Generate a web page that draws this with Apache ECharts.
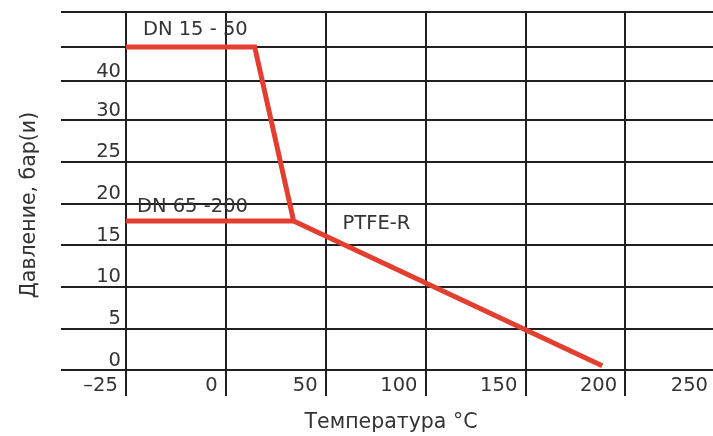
<!DOCTYPE html>
<html>
<head>
<meta charset="utf-8">
<script src="https://cdn.jsdelivr.net/npm/echarts@6/dist/echarts.min.js"></script>
<style>html,body{margin:0;padding:0;background:#fff}#c{width:713px;height:436px}</style>
</head>
<body>
<div id="c"></div>
<script>
// Temperature (°C) and pressure (bar): DN 15 - 50 curve
const tempsSmall = [-50, 14.5, 34, 188.5];
const pressSmall = [38.8, 38.8, 17.9, 0.5];
// DN 65 - 200 curve (joins the common PTFE-R slope at the knee)
const tempsLarge = [-50, 34];
const pressLarge = [17.9, 17.9];

// X axis grid lines and their labels
const xTickValues = [-50, 0, 50, 100, 150, 200, 250];
const xTickLabels = ['–25', '0', '50', '100', '150', '200', '250'];

// Y axis grid lines and their labels
const yLineValues = [0, 5, 10, 15, 20, 25, 30, 34.7, 38.8, 43];
const yLabelValues = [0, 5, 10, 15, 20, 25, 30, 34.7];
const yLabelTexts = ['0', '5', '10', '15', '20', '25', '30', '40'];

// Annotations
const annotTexts = ['DN 15 - 50', 'DN 65 -200', 'PTFE-R'];
const annotX = [-41.5, -44.5, 58.5];
const annotY = [40.8, 19.6, 17.6];

const FONT = 'DejaVu Sans';
const TXT = '#333333';
const LINE = '#231f20';
const RED = '#e23f31';

const chart = echarts.init(document.getElementById('c'), null, {renderer: 'canvas'});
chart.setOption({
  animation: false,
  backgroundColor: '#ffffff',
  grid: {left: 61, width: 664, top: 12, bottom: 66, containLabel: false, outerBoundsMode: 'none'},
  xAxis: {
    type: 'value', min: -82.5, max: 250,
    name: 'Температура °C', nameLocation: 'middle', nameGap: 42,
    nameTextStyle: {fontFamily: FONT, fontSize: 20.5, color: TXT, padding: [0, 4, 0, 0]},
    axisLine: {show: false},
    axisTick: {show: true, customValues: xTickValues, length: 26, inside: false,
      lineStyle: {color: LINE, width: 2}},
    axisLabel: {customValues: xTickValues, align: 'right', margin: 6,
      padding: [0, 8, 0, 0],
      fontFamily: FONT, fontSize: 19.5, color: TXT,
      formatter: v => { const i = xTickValues.indexOf(v); const t = i >= 0 ? xTickLabels[i] : ''; return v === 250 ? '{e|' + t + '}' : t; },
      rich: {e: {fontFamily: FONT, fontSize: 19.5, color: TXT, padding: [0, 9, 0, 0]}}},
    splitLine: {show: true, lineStyle: {color: LINE, width: 2}}
  },
  yAxis: {
    type: 'value', min: 0, max: 43, offset: -65,
    name: 'Давление, бар(и)', nameLocation: 'middle', nameGap: 86, nameRotate: 90,
    nameTextStyle: {fontFamily: FONT, fontSize: 20.5, color: TXT, padding: [0, 28, 0, 0]},
    axisLine: {show: false},
    axisTick: {show: false, customValues: yLineValues},
    axisLabel: {customValues: yLabelValues, verticalAlign: 'bottom', margin: 5,
      fontFamily: FONT, fontSize: 19.5, color: TXT, lineHeight: 19,
      formatter: v => { const i = yLabelValues.indexOf(v); return i >= 0 ? yLabelTexts[i] : ''; }},
    splitLine: {show: true, lineStyle: {color: LINE, width: 2}}
  },
  series: [{
    type: 'line',
    data: tempsSmall.map((t, i) => [t, pressSmall[i]]),
    symbol: 'none',
    lineStyle: {color: RED, width: 5, join: 'miter'},
    z: 3,
    markPoint: {
      symbolSize: 0,
      silent: true,
      label: {show: true, position: 'right', distance: 0, formatter: '{b}',
        fontFamily: FONT, fontSize: 19.5, color: TXT},
      data: annotTexts.map((t, i) => ({name: t, coord: [annotX[i], annotY[i]]}))
    }
  }, {
    type: 'line',
    data: tempsLarge.map((t, i) => [t, pressLarge[i]]),
    symbol: 'none',
    lineStyle: {color: RED, width: 5, join: 'miter'},
    z: 3
  }]
});
</script>
</body>
</html>
